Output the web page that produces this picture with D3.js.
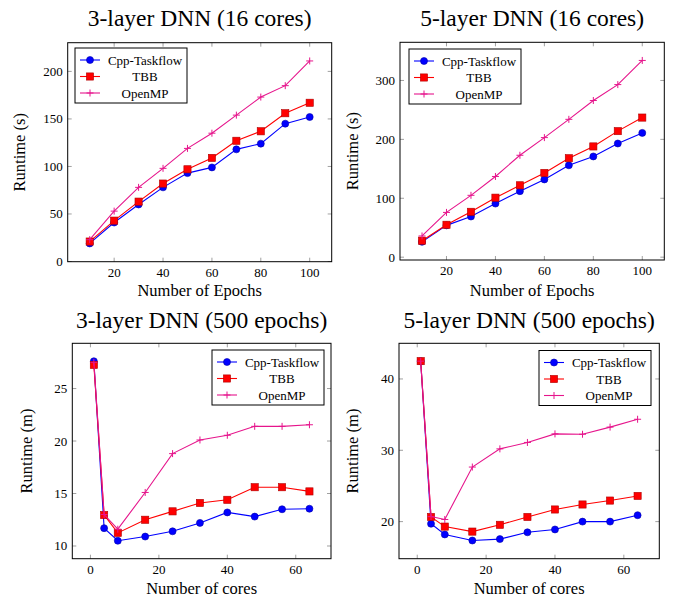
<!DOCTYPE html>
<html>
<head>
<meta charset="utf-8">
<script src="https://cdn.jsdelivr.net/npm/d3@7"></script>
<style>
  body { margin: 0; background: #fff; }
</style>
</head>
<body>
<script>
var w = 678;
var h = 601;
var serif = "Liberation Serif";

var seriesNames = ["Cpp-Taskflow", "TBB", "OpenMP"];
var colors = ["#0000ff", "#ff0000", "#e6158c"];

var epochs = [10, 20, 30, 40, 50, 60, 70, 80, 90, 100];
var cores = [1, 4, 8, 16, 24, 32, 40, 48, 56, 64];

// 3-layer DNN, 16 cores, runtime (s)
var l3Cpp = [19, 41, 60, 78, 93, 99, 118, 124, 145, 152];
var l3Tbb = [21, 43, 63, 82, 97, 109, 127, 137, 156, 167];
var l3Omp = [23, 53, 78, 98, 119, 135, 154, 173, 185, 211];

// 5-layer DNN, 16 cores, runtime (s)
var l5Cpp = [26, 54, 69, 91, 112, 132, 156, 171, 193, 211];
var l5Tbb = [28, 55, 77, 101, 122, 143, 168, 188, 214, 237];
var l5Omp = [36, 76, 105, 137, 173, 203, 234, 266, 293, 334];

// 3-layer DNN, 500 epochs, runtime (m)
var c3Cpp = [27.6, 11.7, 10.5, 10.9, 11.4, 12.2, 13.2, 12.8, 13.5, 13.55];
var c3Tbb = [27.25, 12.95, 11.25, 12.5, 13.3, 14.1, 14.4, 15.6, 15.6, 15.2];
var c3Omp = [27.5, 13.0, 11.6, 15.1, 18.8, 20.1, 20.55, 21.4, 21.4, 21.55];

// 5-layer DNN, 500 epochs, runtime (m)
var c5Cpp = [42.5, 19.7, 18.2, 17.35, 17.55, 18.5, 18.9, 20.0, 20.0, 20.9];
var c5Tbb = [42.5, 20.65, 19.3, 18.6, 19.55, 20.65, 21.7, 22.4, 22.95, 23.6];
var c5Omp = [42.5, 20.7, 20.3, 27.65, 30.2, 31.1, 32.3, 32.25, 33.25, 34.35];

var svg = d3.select("body")
            .append("svg")
              .attr("width", w)
              .attr("height", h)
              .attr("font-family", serif);

var panels = [
  {title: "3-layer DNN (16 cores)", xs: epochs, ys: [l3Cpp, l3Tbb, l3Omp],
   box: [67.7, 42.7, 331.7, 261.7], xdom: [1, 109], ydom: [-0.2, 230.2],
   xticks: [20, 40, 60, 80, 100], yticks: [0, 50, 100, 150, 200],
   xlabel: "Number of Epochs", ylabel: "Runtime (s)", titleY: 26, xlabY: 296, ylabX: 25,
   legend: [75, 48]},
  {title: "5-layer DNN (16 cores)", xs: epochs, ys: [l5Cpp, l5Tbb, l5Omp],
   box: [400, 42.3, 664.3, 260], xdom: [1, 109], ydom: [-4.8, 364.8],
   xticks: [20, 40, 60, 80, 100], yticks: [0, 100, 200, 300],
   xlabel: "Number of Epochs", ylabel: "Runtime (s)", titleY: 26, xlabY: 296, ylabX: 358,
   legend: [409, 49]},
  {title: "3-layer DNN (500 epochs)", xs: cores, ys: [c3Cpp, c3Tbb, c3Omp],
   box: [72.3, 343.3, 331, 558.7], xdom: [-5.3, 70.3], ydom: [8.79, 29.31],
   xticks: [0, 20, 40, 60], yticks: [10, 15, 20, 25],
   xlabel: "Number of cores", ylabel: "Runtime (m)", titleY: 328, xlabY: 594, ylabX: 32,
   legend: [212, 350]},
  {title: "5-layer DNN (500 epochs)", xs: cores, ys: [c5Cpp, c5Tbb, c5Omp],
   box: [399, 343.3, 659.3, 558.7], xdom: [-5.3, 70.3], ydom: [14.8, 45.0],
   xticks: [0, 20, 40, 60], yticks: [20, 30, 40],
   xlabel: "Number of cores", ylabel: "Runtime (m)", titleY: 328, xlabY: 594, ylabX: 358,
   legend: [539, 350.5]}
];

function drawMarker(g, i, x, y) {
  if (i === 0) {
    g.append("circle").attr("cx", x).attr("cy", y).attr("r", 3.5)
      .attr("fill", colors[0]).attr("stroke", "#0000aa").attr("stroke-width", 0.6);
  } else if (i === 1) {
    g.append("rect").attr("x", x - 3.6).attr("y", y - 3.6).attr("width", 7.2).attr("height", 7.2)
      .attr("fill", colors[1]).attr("stroke", "#b00000").attr("stroke-width", 0.6);
  } else {
    g.append("path").attr("d", "M" + (x - 3.5) + "," + y + "H" + (x + 3.5) + "M" + x + "," + (y - 3.5) + "V" + (y + 3.5))
      .attr("stroke", colors[2]).attr("stroke-width", 1);
  }
}

function addText(g, x, y, size, str, anchor) {
  return g.append("text").attr("x", x).attr("y", y)
    .attr("font-family", serif).attr("font-size", size)
    .attr("text-anchor", anchor || "middle").attr("fill", "#000").text(str);
}

panels.forEach(function(p) {
  var x = d3.scaleLinear().domain(p.xdom).range([p.box[0], p.box[2]]);
  var y = d3.scaleLinear().domain(p.ydom).range([p.box[3], p.box[1]]);
  var g = svg.append("g");

  // ticks inside, mirrored on all four sides
  p.xticks.forEach(function(t) {
    g.append("line").attr("x1", x(t)).attr("x2", x(t)).attr("y1", p.box[3]).attr("y2", p.box[3] - 4)
      .attr("stroke", "#888").attr("stroke-width", 0.8);
    g.append("line").attr("x1", x(t)).attr("x2", x(t)).attr("y1", p.box[1]).attr("y2", p.box[1] + 4)
      .attr("stroke", "#888").attr("stroke-width", 0.8);
    addText(g, x(t), p.box[3] + 15, "13px", t);
  });
  p.yticks.forEach(function(t) {
    g.append("line").attr("x1", p.box[0]).attr("x2", p.box[0] + 4).attr("y1", y(t)).attr("y2", y(t))
      .attr("stroke", "#888").attr("stroke-width", 0.8);
    g.append("line").attr("x1", p.box[2]).attr("x2", p.box[2] - 4).attr("y1", y(t)).attr("y2", y(t))
      .attr("stroke", "#888").attr("stroke-width", 0.8);
    addText(g, p.box[0] - 5, y(t) + 4.5, "13px", t, "end");
  });

  var line = d3.line().x(function(d) { return x(d[0]); }).y(function(d) { return y(d[1]); });

  p.ys.forEach(function(vals, i) {
    var pts = p.xs.map(function(xv, k) { return [xv, vals[k]]; });
    g.append("path").attr("d", line(pts)).attr("fill", "none")
      .attr("stroke", colors[i]).attr("stroke-width", 1.1);
    pts.forEach(function(d) { drawMarker(g, i, x(d[0]), y(d[1])); });
  });

  g.append("rect").attr("x", p.box[0]).attr("y", p.box[1])
    .attr("width", p.box[2] - p.box[0]).attr("height", p.box[3] - p.box[1])
    .attr("fill", "none").attr("stroke", "#000").attr("stroke-width", 1);

  // legend
  var lx = p.legend[0], ly = p.legend[1];
  g.append("rect").attr("x", lx).attr("y", ly).attr("width", 112).attr("height", 55)
    .attr("fill", "#fff").attr("stroke", "#000").attr("stroke-width", 1);
  seriesNames.forEach(function(name, i) {
    var ry = ly + 12 + i * 16.5;
    g.append("line").attr("x1", lx + 5).attr("x2", lx + 25).attr("y1", ry).attr("y2", ry)
      .attr("stroke", colors[i]).attr("stroke-width", 1.1);
    drawMarker(g, i, lx + 15, ry);
    addText(g, lx + 70, ry + 4.5, "13px", name);
  });

  var cx = (p.box[0] + p.box[2]) / 2;
  addText(g, cx, p.titleY, "23.5px", p.title);
  addText(g, cx, p.xlabY, "16.5px", p.xlabel);
  var cy = (p.box[1] + p.box[3]) / 2;
  g.append("text").attr("transform", "translate(" + p.ylabX + "," + cy + ") rotate(-90)")
    .attr("font-family", serif).attr("fill", "#000")
    .attr("text-anchor", "middle").attr("font-size", "16.5px").text(p.ylabel);
});
</script>
</body>
</html>
